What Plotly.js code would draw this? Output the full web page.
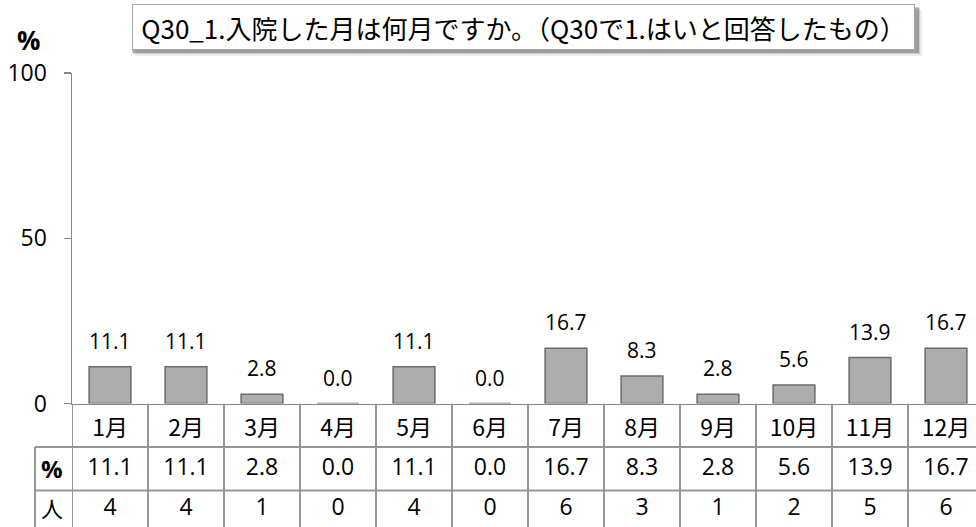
<!DOCTYPE html>
<html><head><meta charset="utf-8">
<script src="https://cdn.plot.ly/plotly-3.0.1.min.js"></script>
<style>html,body{margin:0;padding:0;overflow:hidden;background:#fff}</style>
</head><body><div id="chart" style="width:976px;height:527px"></div>
<script>
// ---- data ----
const months = ['1月','2月','3月','4月','5月','6月','7月','8月','9月','10月','11月','12月'];
const percents = [11.1, 11.1, 2.8, 0.0, 11.1, 0.0, 16.7, 8.3, 2.8, 5.6, 13.9, 16.7];
const counts = [4, 4, 1, 0, 4, 0, 6, 3, 1, 2, 5, 6];
const rowHeaders = ['%', '人'];
const yTicks = [0, 50, 100];
const chartTitle = 'Q30_1.入院した月は何月ですか。（Q30で1.はいと回答したもの）';
const yUnit = '%';

// ---- layout helpers ----
const W = 976, H = 527, ML = 72, MT = 73;
const PW = W - ML, PH = H - MT;
const zeroPx = 403.5;
const yDomBottom = (H - zeroPx) / PH;
const rowPx = 43.5;
const y2Max = (H - zeroPx) / rowPx;
const px2x = p => (p - ML) / PW;
const px2y = p => (H - p) / PH;
const row2dom = r => 1 - r / y2Max;
const catW = 76;
const gridColor = '#969696';
const latin = 'Open Sans, Noto Sans, sans-serif';
const cjk = 'Noto Sans CJK JP, Noto Sans, sans-serif';

const traces = [
  {
    type: 'bar', x: months, y: percents,
    marker: {color: '#adadad', line: {color: '#6b6b6b', width: 1.5}},
    width: 0.55, hoverinfo: 'none', xaxis: 'x', yaxis: 'y'
  },
  {
    type: 'scatter', mode: 'text', x: months, y: months.map(() => 1.5),
    text: percents.map(v => v.toFixed(1)), textposition: 'middle center',
    textfont: {family: latin, size: 23, color: '#000'},
    hoverinfo: 'none', xaxis: 'x', yaxis: 'y2', cliponaxis: false
  },
  {
    type: 'scatter', mode: 'text', x: months, y: months.map(() => 2.43),
    text: counts.map(v => String(v)), textposition: 'middle center',
    textfont: {family: latin, size: 23, color: '#000'},
    hoverinfo: 'none', xaxis: 'x', yaxis: 'y2', cliponaxis: false
  }
];

const shapes = [];
// title shadow
[[2,3,0.22],[3,4,0.14],[5,6,0.07]].forEach(([dx,dy,op]) => {
  shapes.push({type:'rect', xref:'paper', yref:'paper', layer:'above',
    x0: px2x(130+dx), x1: px2x(917+dx), y0: px2y(50+dy), y1: px2y(4+dy),
    fillcolor: 'rgba(0,0,0,'+op+')', line:{width:0}});
});
// table vertical lines
for (let i = 0; i <= months.length; i++) {
  shapes.push({type:'line', xref:'x', yref:'y2', x0:i-0.5, x1:i-0.5, y0:0, y1:3,
    line:{color:gridColor, width:2}});
}
// table horizontal lines
[1, 2].forEach(r => {
  shapes.push({type:'line', xref:'x', yref:'y2', x0:-0.5, x1:months.length-0.5, y0:r, y1:r,
    line:{color:gridColor, width:2}});
  shapes.push({type:'line', xref:'paper', yref:'y2 domain', x0:px2x(35), x1:0,
    y0:row2dom(r), y1:row2dom(r), line:{color:gridColor, width:2}});
});
shapes.push({type:'line', xref:'paper', yref:'y2 domain', x0:px2x(35), x1:px2x(35),
  y0:row2dom(1), y1:row2dom(3.2), line:{color:gridColor, width:2}});

const annotations = [];
// bar value labels
months.forEach((m, i) => {
  annotations.push({x:m, y:percents[i], xref:'x', yref:'y', text:percents[i].toFixed(1),
    showarrow:false, yanchor:'middle', yshift:26, font:{family:latin, size:21, color:'#000'}});
});
// row headers
rowHeaders.forEach((h, i) => {
  annotations.push({xref:'paper', yref:'y2', x:px2x(52), y: i === 0 ? 1.5 : 2.38,
    text: i === 0 ? '<b>'+h+'</b>' : h,
    showarrow:false, xanchor:'center', yanchor:'middle',
    font:{family: i === 0 ? latin : cjk, size: i === 0 ? 24 : 22, color:'#000'}});
});
// y unit
annotations.push({xref:'paper', yref:'paper', x:px2x(28), y:px2y(40), text:'<b>'+yUnit+'</b>',
  showarrow:false, xanchor:'center', yanchor:'middle', font:{family:latin, size:26, color:'#000'}});
// title box
annotations.push({xref:'paper', yref:'paper', x:px2x(523.5), y:px2y(27), text:chartTitle,
  showarrow:false, xanchor:'center', yanchor:'middle', width:779, height:42, borderpad:1,
  bgcolor:'#fff', bordercolor:'#a8a8a8', borderwidth:1,
  font:{family:cjk, size:26, color:'#000'}});

const layout = {
  width: W, height: H,
  margin: {l: ML, r: 0, t: MT, b: 0, pad: 0},
  paper_bgcolor: '#fff', plot_bgcolor: 'rgba(0,0,0,0)',
  showlegend: false, bargap: 0.45,
  xaxis: {type:'category', range:[-0.5, -0.5 + PW/catW], anchor:'y',
    showline:true, linecolor:'#878787', linewidth:1.5, showgrid:false, zeroline:false,
    ticks:'', ticklabelstandoff: 3, tickfont:{family:cjk, size:23, color:'#000'}, fixedrange:true},
  yaxis: {domain:[yDomBottom, 1], range:[0, 100], tickvals: yTicks, ticktext: yTicks.map(String),
    ticks:'outside', ticklen:7, tickcolor:'#878787', tickwidth:1.5,
    showline:true, linecolor:'#878787', linewidth:1.5, showgrid:false, zeroline:false,
    ticklabelstandoff: 12, tickfont:{family:latin, size:23, color:'#000'}, fixedrange:true},
  yaxis2: {domain:[0, yDomBottom], range:[y2Max, 0], anchor:'x', visible:false, fixedrange:true},
  shapes: shapes,
  annotations: annotations
};

Plotly.newPlot('chart', traces, layout, {displayModeBar:false, staticPlot:true});
</script></body></html>
